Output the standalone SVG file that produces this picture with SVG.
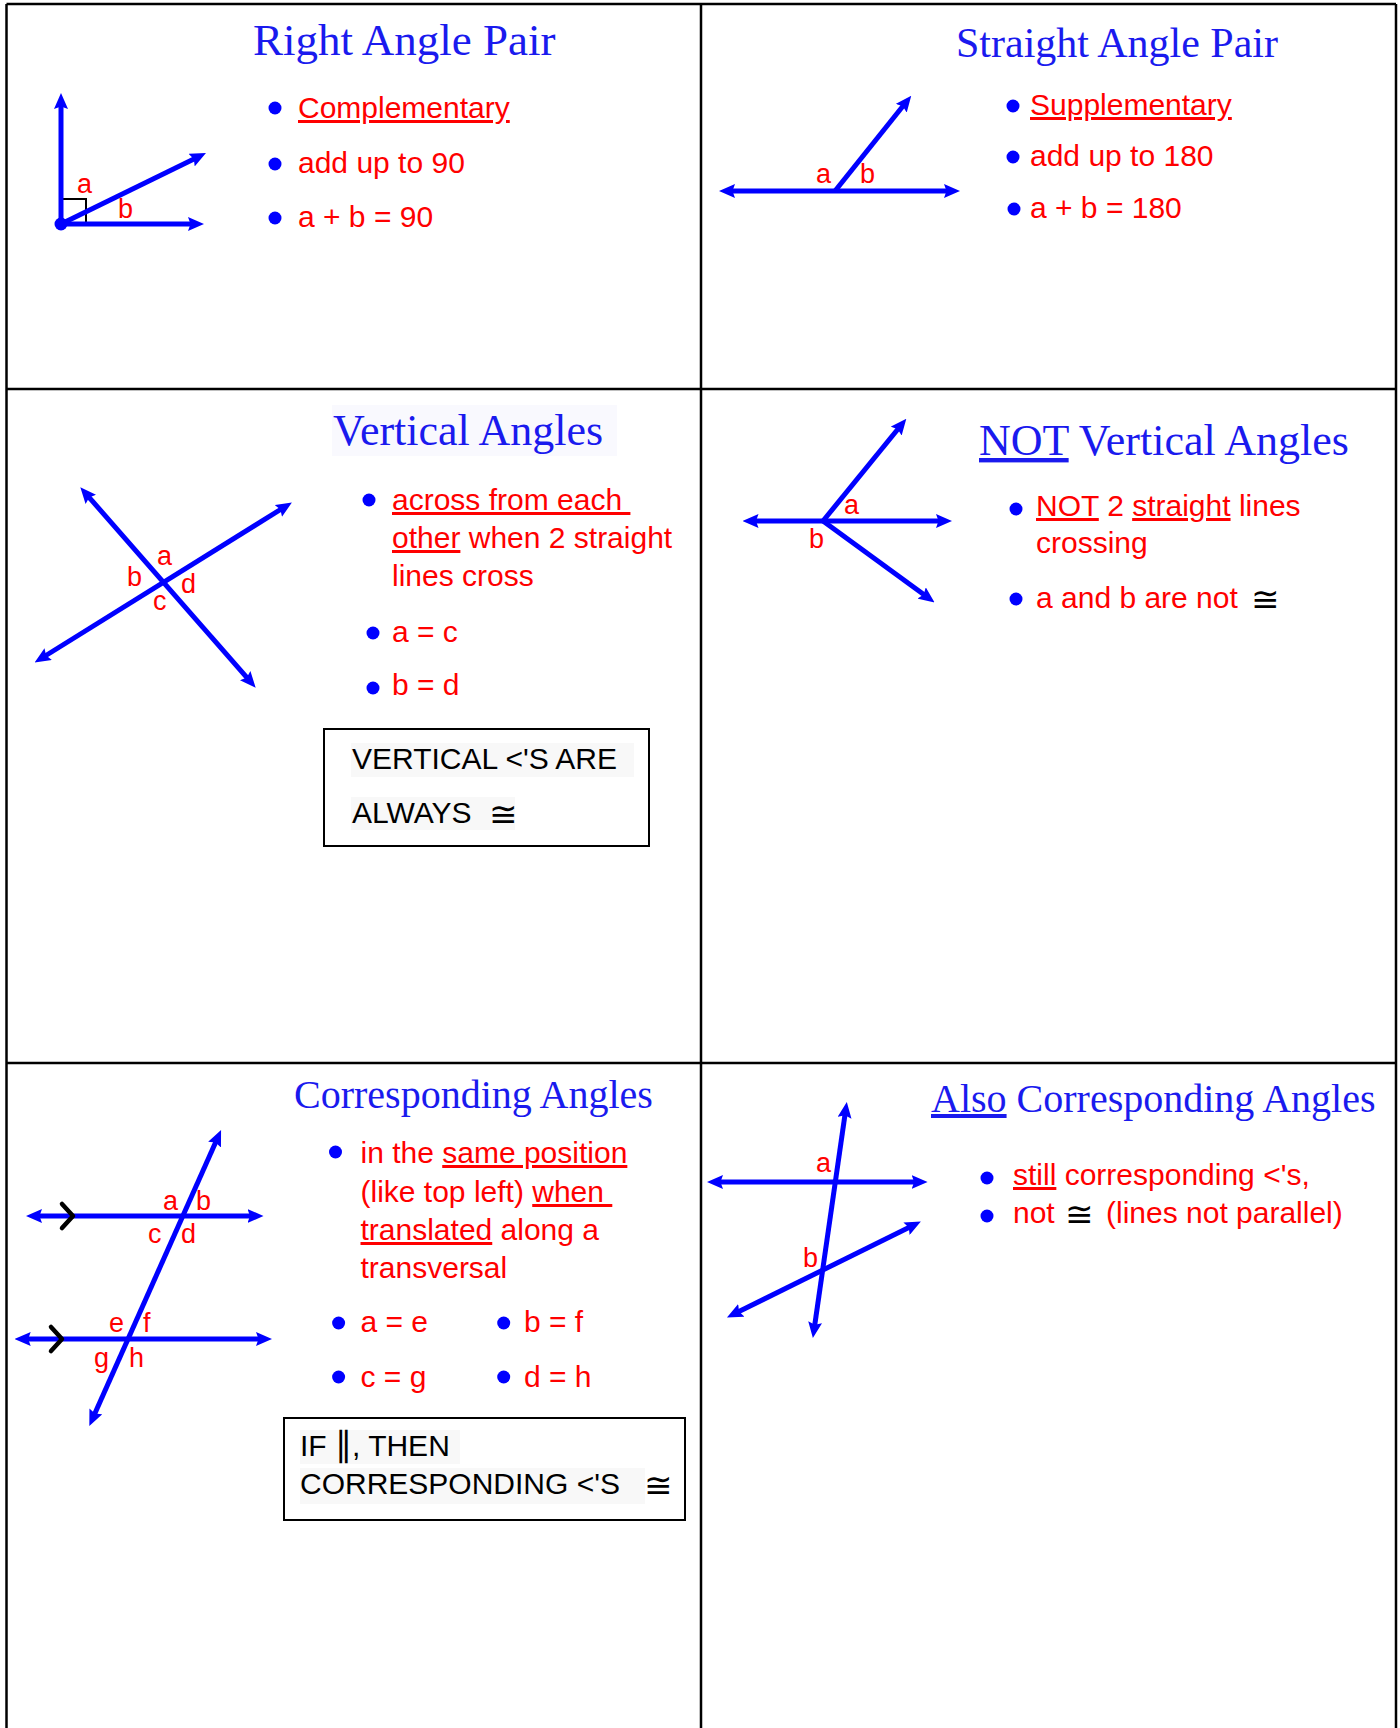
<svg xmlns="http://www.w3.org/2000/svg" width="1400" height="1728" viewBox="0 0 1400 1728">
<defs>
<style>
.title{font-family:"Liberation Serif","Times New Roman",serif;fill:#1a1aee;}
.txt{font-family:"Liberation Sans",Arial,sans-serif;font-size:30px;fill:#ff0000;}
.blk{font-family:"Liberation Sans",Arial,sans-serif;font-size:30px;fill:#000000;}
.lbl{font-family:"Liberation Sans",Arial,sans-serif;font-size:27px;fill:#ff0000;}
.cong{font-family:"DejaVu Sans",sans-serif;font-size:34px;fill:#000000;}
.par{font-family:"DejaVu Sans",sans-serif;font-size:34px;fill:#000000;}
.u{text-decoration:underline;}
.ray{stroke:#0000ff;stroke-width:5;fill:none;}
.two{marker-start:url(#ah);marker-end:url(#ah);}
.one{marker-end:url(#ah);}
.bul{fill:#0000ff;}
.grid{stroke:#000000;stroke-width:2.5;fill:none;}
.box{fill:none;stroke:#000000;stroke-width:2;}
.hl{fill:#f8f8f8;}
.chev{fill:none;stroke:#000000;stroke-width:4.5;stroke-linecap:round;stroke-linejoin:round;}
</style>
<marker id="ah" viewBox="0 0 16 14" markerWidth="16" markerHeight="14" refX="6" refY="7" orient="auto-start-reverse" markerUnits="userSpaceOnUse">
<path d="M0,0 L16,7 L0,14 L2.5,7 Z" fill="#0000ff"/>
</marker>
</defs>
<rect width="1400" height="1728" fill="#ffffff"/>

<g id="grid">
<line class="grid" x1="6.5" y1="4" x2="6.5" y2="1728"/>
<line class="grid" x1="1396" y1="4" x2="1396" y2="1728"/>
<line class="grid" x1="701" y1="4" x2="701" y2="1728"/>
<line class="grid" x1="6.5" y1="4" x2="1396" y2="4"/>
<line class="grid" x1="6.5" y1="389" x2="1396" y2="389"/>
<line class="grid" x1="6.5" y1="1063" x2="1396" y2="1063"/>
</g>

<g id="right-angle-pair">
<text class="title" x="253" y="55" font-size="45">Right Angle Pair</text>
<g id="ra-figure">
<rect x="61" y="199" width="25" height="25" fill="none" stroke="#000" stroke-width="2"/>
<line class="ray one" x1="61" y1="224" x2="61" y2="103"/>
<line class="ray one" x1="61" y1="224" x2="194" y2="224"/>
<line class="ray one" x1="61" y1="224" x2="197" y2="157.5"/>
<circle class="bul" cx="61" cy="224" r="6.5"/>
<text class="lbl" x="77" y="193">a</text>
<text class="lbl" x="118" y="218">b</text>
</g>
<circle class="bul" cx="275" cy="108" r="6.5"/>
<circle class="bul" cx="275" cy="164" r="6.5"/>
<circle class="bul" cx="275" cy="218" r="6.5"/>
<text class="txt u" x="298" y="118">Complementary</text>
<text class="txt" x="298" y="173">add up to 90</text>
<text class="txt" x="298" y="227">a + b = 90</text>
</g>

<g id="straight-angle-pair">
<text class="title" x="956" y="57" font-size="42">Straight Angle Pair</text>
<g id="sa-figure">
<line class="ray two" x1="729" y1="191" x2="950" y2="191"/>
<line class="ray one" x1="835" y1="191" x2="905" y2="103.5"/>
<text class="lbl" x="816" y="183">a</text>
<text class="lbl" x="860" y="183">b</text>
</g>
<circle class="bul" cx="1013" cy="106" r="6.5"/>
<circle class="bul" cx="1013" cy="157" r="6.5"/>
<circle class="bul" cx="1014" cy="209" r="6.5"/>
<text class="txt u" x="1030" y="115">Supplementary</text>
<text class="txt" x="1030" y="166">add up to 180</text>
<text class="txt" x="1030" y="218">a + b = 180</text>
</g>

<g id="vertical-angles">
<rect x="332" y="405" width="285" height="51" fill="#f9f9fe"/>
<text class="title" x="333" y="445" font-size="44">Vertical Angles</text>
<g id="va-figure">
<line class="ray two" x1="86.9" y1="494.8" x2="249.1" y2="680.2"/>
<line class="ray two" x1="43.1" y1="657.25" x2="283.4" y2="507.75"/>
<text class="lbl" x="157" y="565">a</text>
<text class="lbl" x="127" y="586">b</text>
<text class="lbl" x="181" y="593">d</text>
<text class="lbl" x="153" y="610">c</text>
</g>
<circle class="bul" cx="369" cy="500" r="6.5"/>
<text class="txt u" x="392" y="510" xml:space="preserve">across from each </text>
<text class="txt" x="392" y="548"><tspan class="u">other</tspan> when 2 straight</text>
<text class="txt" x="392" y="586">lines cross</text>
<circle class="bul" cx="373" cy="633" r="6.5"/>
<text class="txt" x="392" y="642">a = c</text>
<circle class="bul" cx="373" cy="688" r="6.5"/>
<text class="txt" x="392" y="695">b = d</text>
<g id="va-box">
<rect class="box" x="324" y="729" width="325" height="117"/>
<rect class="hl" x="351" y="743" width="283" height="34"/>
<rect class="hl" x="351" y="797" width="164" height="33"/>
<text class="blk" x="352" y="769">VERTICAL &lt;'S ARE</text>
<text class="blk" x="352" y="823">ALWAYS</text>
<text class="cong" x="489" y="826">≅</text>
</g>
</g>

<g id="not-vertical-angles">
<text class="title" x="979" y="455" font-size="44"><tspan class="u">NOT</tspan> Vertical Angles</text>
<g id="nva-figure">
<line class="ray two" x1="752.5" y1="521" x2="942" y2="521"/>
<line class="ray one" x1="823" y1="521" x2="900" y2="426.5"/>
<line class="ray one" x1="823" y1="521" x2="926.5" y2="596.5"/>
<text class="lbl" x="844" y="514">a</text>
<text class="lbl" x="809" y="548">b</text>
</g>
<circle class="bul" cx="1016" cy="509" r="6.5"/>
<text class="txt" x="1036" y="516"><tspan class="u">NOT</tspan> 2 <tspan class="u">straight</tspan> lines</text>
<text class="txt" x="1036" y="553">crossing</text>
<circle class="bul" cx="1016" cy="599" r="6.5"/>
<text class="txt" x="1036" y="608">a and b are not</text>
<text class="cong" x="1251" y="611">≅</text>
</g>

<g id="corresponding-angles">
<text class="title" x="294" y="1108" font-size="40">Corresponding Angles</text>
<g id="ca-figure">
<line class="ray two" x1="36" y1="1216" x2="253.5" y2="1216"/>
<line class="ray two" x1="24.7" y1="1339" x2="262" y2="1339"/>
<line class="ray two" x1="217" y1="1139.2" x2="93.4" y2="1416.8"/>
<path class="chev" d="M62,1204 L73,1216 L62,1228"/>
<path class="chev" d="M51,1327 L62,1339 L51,1351"/>
<text class="lbl" x="163" y="1210">a</text>
<text class="lbl" x="196" y="1210">b</text>
<text class="lbl" x="148" y="1243">c</text>
<text class="lbl" x="181" y="1243">d</text>
<text class="lbl" x="109" y="1332">e</text>
<text class="lbl" x="143" y="1332">f</text>
<text class="lbl" x="94" y="1367">g</text>
<text class="lbl" x="129" y="1367">h</text>
</g>
<circle class="bul" cx="335.5" cy="1152" r="6.5"/>
<text class="txt" x="360.5" y="1163">in the <tspan class="u">same position</tspan></text>
<text class="txt" x="360.5" y="1202" xml:space="preserve">(like top left) <tspan class="u">when </tspan></text>
<text class="txt" x="360.5" y="1240"><tspan class="u">translated</tspan> along a</text>
<text class="txt" x="360.5" y="1278">transversal</text>
<circle class="bul" cx="338.6" cy="1323" r="6.5"/>
<text class="txt" x="360.5" y="1332">a = e</text>
<circle class="bul" cx="503.7" cy="1323" r="6.5"/>
<text class="txt" x="524" y="1332">b = f</text>
<circle class="bul" cx="338.6" cy="1377" r="6.5"/>
<text class="txt" x="360.5" y="1387">c = g</text>
<circle class="bul" cx="503.7" cy="1377" r="6.5"/>
<text class="txt" x="524" y="1387">d = h</text>
<g id="ca-box">
<rect class="box" x="284" y="1418" width="401" height="102"/>
<rect class="hl" x="300" y="1430" width="160" height="34"/>
<rect class="hl" x="300" y="1468" width="345" height="36"/>
<text class="blk" x="300" y="1456">IF <tspan class="par">∥</tspan>, THEN</text>
<text class="blk" x="300" y="1494">CORRESPONDING &lt;'S</text>
<text class="cong" x="644" y="1497">≅</text>
</g>
</g>

<g id="also-corresponding-angles">
<text class="title" x="931" y="1112" font-size="40"><tspan class="u">Also</tspan> Corresponding Angles</text>
<g id="aca-figure">
<line class="ray two" x1="717" y1="1182" x2="917.6" y2="1182"/>
<line class="ray two" x1="845.4" y1="1111.9" x2="814.3" y2="1328.1"/>
<line class="ray two" x1="735.9" y1="1313" x2="911.9" y2="1226"/>
<text class="lbl" x="816" y="1172">a</text>
<text class="lbl" x="803" y="1267">b</text>
</g>
<circle class="bul" cx="987" cy="1178" r="6.5"/>
<text class="txt" x="1013" y="1185"><tspan class="u">still</tspan> corresponding &lt;'s,</text>
<circle class="bul" cx="987" cy="1216" r="6.5"/>
<text class="txt" x="1013" y="1223">not</text>
<text class="cong" x="1065" y="1226">≅</text>
<text class="txt" x="1106" y="1223">(lines not parallel)</text>
</g>
</svg>
